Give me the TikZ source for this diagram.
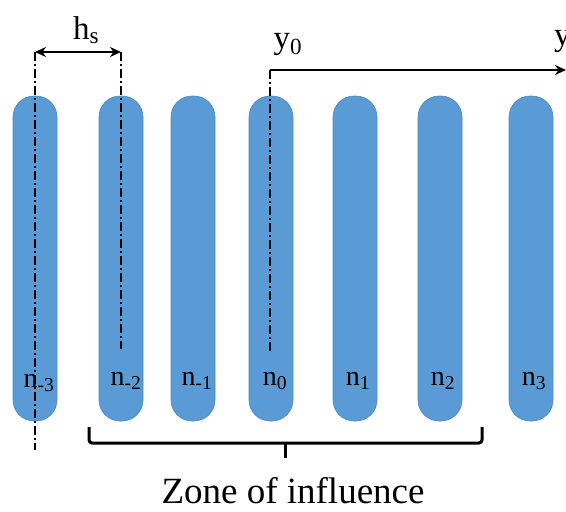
\documentclass[tikz,border=0pt]{standalone}
\usepackage{fontspec}
\setmainfont{Liberation Serif}
\usetikzlibrary{arrows.meta}
\definecolor{rodblue}{HTML}{5B9BD5}
\definecolor{rodedge}{HTML}{4A86C0}
\tikzset{
  rod/.style={fill=rodblue, draw=rodedge, line width=0.6pt, rounded corners=21pt},
  dashdot/.style={line width=2pt, dash pattern=on 9pt off 3pt on 2pt off 3pt},
  rodlabel/.style={font=\fontsize{28}{32}\selectfont, inner sep=0pt},
  axlabel/.style={font=\fontsize{33}{38}\selectfont, inner sep=0pt},
  tip/.style={Stealth[length=11pt,width=10pt]},
  arr/.style={line width=2.6pt, -{Stealth[length=11pt,width=10pt]}},
  brace/.style={line width=3pt}
}
\begin{document}
\begin{tikzpicture}[x=1pt,y=-1pt]
\useasboundingbox (0,0) rectangle (566,512);
% rods
\foreach \nm/\cx in {r1/35,r2/121,r3/193,r4/271,r5/355,r6/440,r7/531}{
  \path[rod] (\cx-22,96) rectangle (\cx+22,421);
  \coordinate (\nm) at (\cx,380);
}
% labels
\node[rodlabel] (l1) at (39,383) {n\textsubscript{-3}};
\node[rodlabel] (l2) at (126,381) {n\textsubscript{-2}};
\node[rodlabel] (l3) at (197,381) {n\textsubscript{-1}};
\node[rodlabel] (l4) at (275,381) {n\textsubscript{0}};
\node[rodlabel] (l5) at (358,381) {n\textsubscript{1}};
\node[rodlabel] (l6) at (443,381) {n\textsubscript{2}};
\node[rodlabel] (l7) at (534,381) {n\textsubscript{3}};
% dash-dot lines
\coordinate (a1) at (35,52);
\coordinate (a2) at (35,450);
\coordinate (b1) at (121,52);
\coordinate (b2) at (121,349);
\coordinate (c1) at (270,70);
\coordinate (c2) at (270,352);
\draw[dashdot] (a1) -- (a2);
\draw[dashdot] (b1) -- (b2);
\draw[dashdot] (c1) -- (c2);
% h_s arrow
\draw[line width=2.6pt, {Stealth[length=11pt,width=10pt]}-{Stealth[length=11pt,width=10pt]}] (a1) -- (b1);
\node[axlabel] (hs) at (86,30) {h\textsubscript{s}};
% y arrow
\coordinate (yend) at (566,70);
\draw[arr] (c1) -- (yend);
\node[axlabel] (y0) at (288,44) {y\textsubscript{0}};
\node[axlabel, anchor=west] (yy) at (554,41) {y};
% bracket
\coordinate (k1) at (89,427);
\coordinate (k2) at (482,427);
\coordinate (km) at (285,443);
\draw[brace, rounded corners=3pt] (k1) -- (89,443) -- (482,443) -- (k2);
\draw[brace] (km) -- (285,458);
\node[font=\fontsize{37}{42}\selectfont, inner sep=0pt, anchor=base] (zone) at (293,503) {Zone of influence};
\end{tikzpicture}
\end{document}
